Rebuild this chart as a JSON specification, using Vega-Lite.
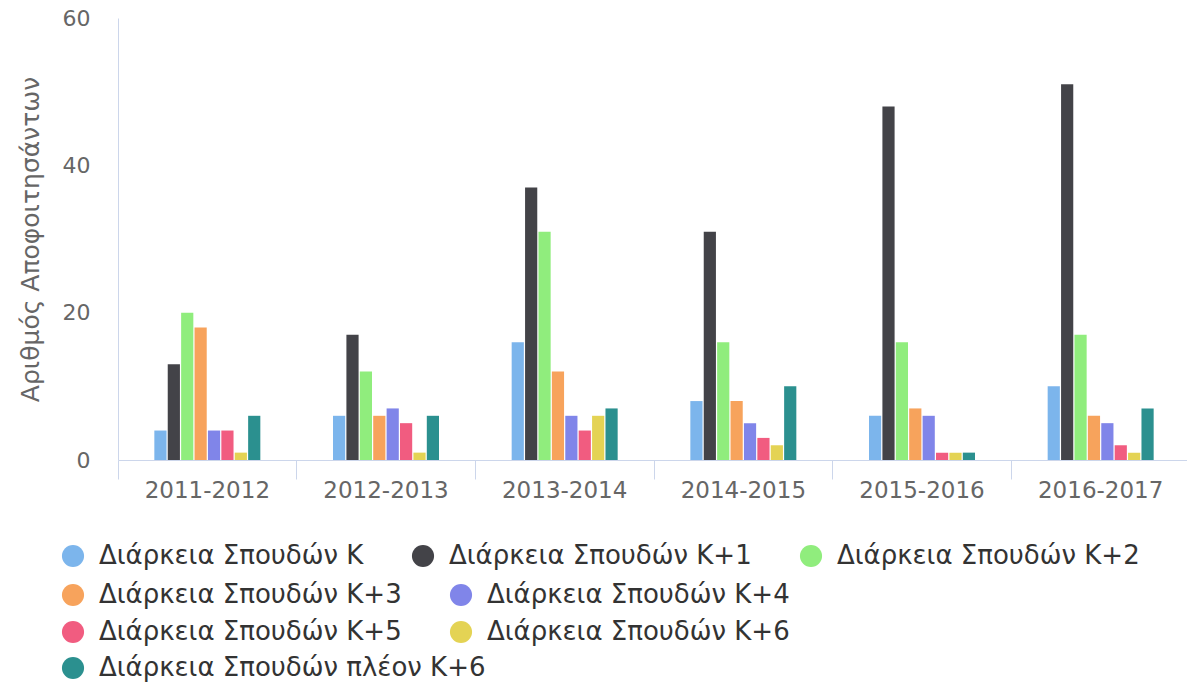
{
  "$schema": "https://vega.github.io/schema/vega-lite/v6.json",
  "width": 1072,
  "height": 442,
  "autosize": {"type": "none"},
  "padding": {"left": 118, "top": 18, "right": 0, "bottom": 226},
  "background": "white",
  "config": {
    "view": {"stroke": null},
    "font": "DejaVu Sans",
    "legend": {
      "orient": "none",
      "direction": "horizontal",
      "symbolType": "circle",
      "symbolSize": 490,
      "symbolStrokeWidth": 0,
      "symbolOpacity": 1,
      "labelFontSize": 26,
      "labelColor": "#333333",
      "labelFont": "DejaVu Sans",
      "labelOffset": 13,
      "columnPadding": 46,
      "gridAlign": "none",
      "padding": 0,
      "labelLimit": 600,
      "title": null
    }
  },
  "data": {
    "values": [
      {"year": "2011-2012", "series": "Διάρκεια Σπουδών Κ", "value": 4},
      {"year": "2011-2012", "series": "Διάρκεια Σπουδών Κ+1", "value": 13},
      {"year": "2011-2012", "series": "Διάρκεια Σπουδών Κ+2", "value": 20},
      {"year": "2011-2012", "series": "Διάρκεια Σπουδών Κ+3", "value": 18},
      {"year": "2011-2012", "series": "Διάρκεια Σπουδών Κ+4", "value": 4},
      {"year": "2011-2012", "series": "Διάρκεια Σπουδών Κ+5", "value": 4},
      {"year": "2011-2012", "series": "Διάρκεια Σπουδών Κ+6", "value": 1},
      {"year": "2011-2012", "series": "Διάρκεια Σπουδών πλέον Κ+6", "value": 6},
      {"year": "2012-2013", "series": "Διάρκεια Σπουδών Κ", "value": 6},
      {"year": "2012-2013", "series": "Διάρκεια Σπουδών Κ+1", "value": 17},
      {"year": "2012-2013", "series": "Διάρκεια Σπουδών Κ+2", "value": 12},
      {"year": "2012-2013", "series": "Διάρκεια Σπουδών Κ+3", "value": 6},
      {"year": "2012-2013", "series": "Διάρκεια Σπουδών Κ+4", "value": 7},
      {"year": "2012-2013", "series": "Διάρκεια Σπουδών Κ+5", "value": 5},
      {"year": "2012-2013", "series": "Διάρκεια Σπουδών Κ+6", "value": 1},
      {"year": "2012-2013", "series": "Διάρκεια Σπουδών πλέον Κ+6", "value": 6},
      {"year": "2013-2014", "series": "Διάρκεια Σπουδών Κ", "value": 16},
      {"year": "2013-2014", "series": "Διάρκεια Σπουδών Κ+1", "value": 37},
      {"year": "2013-2014", "series": "Διάρκεια Σπουδών Κ+2", "value": 31},
      {"year": "2013-2014", "series": "Διάρκεια Σπουδών Κ+3", "value": 12},
      {"year": "2013-2014", "series": "Διάρκεια Σπουδών Κ+4", "value": 6},
      {"year": "2013-2014", "series": "Διάρκεια Σπουδών Κ+5", "value": 4},
      {"year": "2013-2014", "series": "Διάρκεια Σπουδών Κ+6", "value": 6},
      {"year": "2013-2014", "series": "Διάρκεια Σπουδών πλέον Κ+6", "value": 7},
      {"year": "2014-2015", "series": "Διάρκεια Σπουδών Κ", "value": 8},
      {"year": "2014-2015", "series": "Διάρκεια Σπουδών Κ+1", "value": 31},
      {"year": "2014-2015", "series": "Διάρκεια Σπουδών Κ+2", "value": 16},
      {"year": "2014-2015", "series": "Διάρκεια Σπουδών Κ+3", "value": 8},
      {"year": "2014-2015", "series": "Διάρκεια Σπουδών Κ+4", "value": 5},
      {"year": "2014-2015", "series": "Διάρκεια Σπουδών Κ+5", "value": 3},
      {"year": "2014-2015", "series": "Διάρκεια Σπουδών Κ+6", "value": 2},
      {"year": "2014-2015", "series": "Διάρκεια Σπουδών πλέον Κ+6", "value": 10},
      {"year": "2015-2016", "series": "Διάρκεια Σπουδών Κ", "value": 6},
      {"year": "2015-2016", "series": "Διάρκεια Σπουδών Κ+1", "value": 48},
      {"year": "2015-2016", "series": "Διάρκεια Σπουδών Κ+2", "value": 16},
      {"year": "2015-2016", "series": "Διάρκεια Σπουδών Κ+3", "value": 7},
      {"year": "2015-2016", "series": "Διάρκεια Σπουδών Κ+4", "value": 6},
      {"year": "2015-2016", "series": "Διάρκεια Σπουδών Κ+5", "value": 1},
      {"year": "2015-2016", "series": "Διάρκεια Σπουδών Κ+6", "value": 1},
      {"year": "2015-2016", "series": "Διάρκεια Σπουδών πλέον Κ+6", "value": 1},
      {"year": "2016-2017", "series": "Διάρκεια Σπουδών Κ", "value": 10},
      {"year": "2016-2017", "series": "Διάρκεια Σπουδών Κ+1", "value": 51},
      {"year": "2016-2017", "series": "Διάρκεια Σπουδών Κ+2", "value": 17},
      {"year": "2016-2017", "series": "Διάρκεια Σπουδών Κ+3", "value": 6},
      {"year": "2016-2017", "series": "Διάρκεια Σπουδών Κ+4", "value": 5},
      {"year": "2016-2017", "series": "Διάρκεια Σπουδών Κ+5", "value": 2},
      {"year": "2016-2017", "series": "Διάρκεια Σπουδών Κ+6", "value": 1},
      {"year": "2016-2017", "series": "Διάρκεια Σπουδών πλέον Κ+6", "value": 7}
    ]
  },
  "encoding": {
    "x": {
      "field": "year", "type": "nominal", "sort": null,
      "scale": {"paddingInner": 0.4, "paddingOuter": 0.2},
      "axis": {
        "title": null, "labelAngle": 0, "labelFontSize": 23, "labelColor": "#666666",
        "labelFont": "DejaVu Sans",
        "domainColor": "#ccd6eb", "tickColor": "#ccd6eb", "tickSize": 19,
        "bandPosition": -0.3333, "labelPadding": 0, "grid": false
      }
    },
    "xOffset": {
      "field": "series", "type": "nominal",
      "scale": {
        "domain": ["Διάρκεια Σπουδών Κ", "Διάρκεια Σπουδών Κ+1", "Διάρκεια Σπουδών Κ+2", "Διάρκεια Σπουδών Κ+3", "Διάρκεια Σπουδών Κ+4", "Διάρκεια Σπουδών Κ+5", "Διάρκεια Σπουδών Κ+6", "Διάρκεια Σπουδών πλέον Κ+6"],
        "paddingInner": 0.09, "paddingOuter": 0.045
      }
    },
    "y": {
      "field": "value", "type": "quantitative",
      "scale": {"domain": [0, 60], "nice": false},
      "axis": {
        "title": "Αριθμός Αποφοιτησάντων", "titleFontSize": 25, "titleColor": "#666666",
        "titleFontWeight": "normal", "titleFont": "DejaVu Sans", "titlePadding": 19,
        "values": [0, 20, 40, 60], "labelFontSize": 22, "labelColor": "#666666",
        "labelFont": "DejaVu Sans", "labelPadding": 28, "ticks": false,
        "domainColor": "#ccd6eb", "grid": false
      }
    }
  },
  "layer": [
    {
      "transform": [{"filter": {"field": "series", "oneOf": ["Διάρκεια Σπουδών Κ", "Διάρκεια Σπουδών Κ+1", "Διάρκεια Σπουδών Κ+2"]}}],
      "mark": {"type": "bar"},
      "encoding": {
        "color": {
          "field": "series", "type": "nominal",
          "scale": {"domain": ["Διάρκεια Σπουδών Κ", "Διάρκεια Σπουδών Κ+1", "Διάρκεια Σπουδών Κ+2"], "range": ["#7cb5ec", "#434348", "#90ed7d"]},
          "legend": {"legendX": -58, "legendY": 525, "columns": 3}
        }
      }
    },
    {
      "transform": [{"filter": {"field": "series", "oneOf": ["Διάρκεια Σπουδών Κ+3", "Διάρκεια Σπουδών Κ+4"]}}],
      "mark": {"type": "bar"},
      "encoding": {
        "color": {
          "field": "series", "type": "nominal",
          "scale": {"domain": ["Διάρκεια Σπουδών Κ+3", "Διάρκεια Σπουδών Κ+4"], "range": ["#f7a35c", "#8085e9"]},
          "legend": {"legendX": -58, "legendY": 564, "columns": 2}
        }
      }
    },
    {
      "transform": [{"filter": {"field": "series", "oneOf": ["Διάρκεια Σπουδών Κ+5", "Διάρκεια Σπουδών Κ+6"]}}],
      "mark": {"type": "bar"},
      "encoding": {
        "color": {
          "field": "series", "type": "nominal",
          "scale": {"domain": ["Διάρκεια Σπουδών Κ+5", "Διάρκεια Σπουδών Κ+6"], "range": ["#f15c80", "#e4d354"]},
          "legend": {"legendX": -58, "legendY": 601, "columns": 2}
        }
      }
    },
    {
      "transform": [{"filter": {"field": "series", "oneOf": ["Διάρκεια Σπουδών πλέον Κ+6"]}}],
      "mark": {"type": "bar"},
      "encoding": {
        "color": {
          "field": "series", "type": "nominal",
          "scale": {"domain": ["Διάρκεια Σπουδών πλέον Κ+6"], "range": ["#2b908f"]},
          "legend": {"legendX": -58, "legendY": 637, "columns": 1}
        }
      }
    }
  ],
  "resolve": {"scale": {"color": "independent"}, "legend": {"color": "independent"}}
}
